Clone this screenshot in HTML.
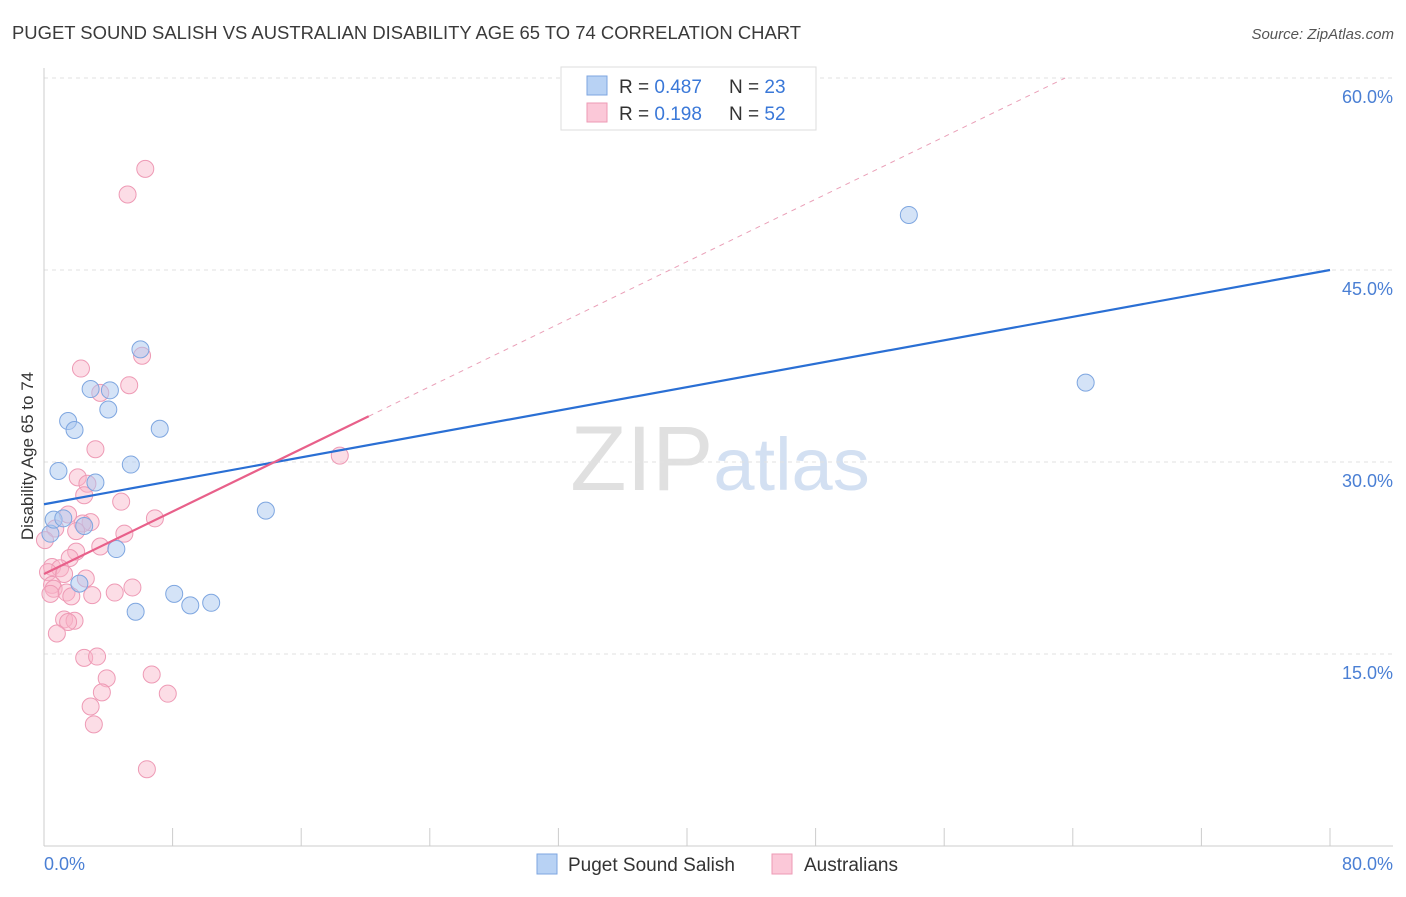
<!DOCTYPE html>
<html><head><meta charset="utf-8"><style>
body{margin:0;background:#fff;font-family:"Liberation Sans",sans-serif;}
svg text{font-family:"Liberation Sans",sans-serif;}
</style></head><body>
<svg id="chart" width="1406" height="892" viewBox="0 0 1406 892" xmlns="http://www.w3.org/2000/svg">
<text x="12" y="39" font-size="18" fill="#3a3a3a" textLength="789" lengthAdjust="spacingAndGlyphs">PUGET SOUND SALISH VS AUSTRALIAN DISABILITY AGE 65 TO 74 CORRELATION CHART</text>
<text x="1394" y="39" font-size="15" fill="#555" text-anchor="end" font-style="italic">Source: ZipAtlas.com</text>
<text x="720" y="490" font-size="92" text-anchor="middle" fill="#e0e0e0" font-family="Liberation Serif">ZIP<tspan fill="#d3e0f2" font-family="Liberation Sans" font-size="74">atlas</tspan></text>
<g id="grid"></g><g id="axes"></g><g id="marks"></g>
<text transform="translate(33,456) rotate(-90)" font-size="17" fill="#333" text-anchor="middle">Disability Age 65 to 74</text>
<text x="44" y="870" font-size="18" fill="#4a7fd4">0.0%</text>
<text x="1393" y="870" font-size="18" fill="#4a7fd4" text-anchor="end">80.0%</text>
<g>
<rect x="561" y="67" width="255" height="63" fill="#fff" stroke="#ddd"/>
<rect x="587" y="76" width="20" height="19" fill="#b8d2f4" stroke="#7ea6e0"/>
<rect x="587" y="103" width="20" height="19" fill="#fbc8d8" stroke="#ee9ab5"/>
<text x="619" y="93" font-size="19" fill="#333">R = <tspan fill="#3a78d8">0.487</tspan><tspan x="729">N = </tspan><tspan fill="#3a78d8">23</tspan></text>
<text x="619" y="120" font-size="19" fill="#333">R = <tspan fill="#3a78d8"> 0.198</tspan><tspan x="729">N = </tspan><tspan fill="#3a78d8">52</tspan></text>
</g>
<g>
<rect x="537" y="854" width="20" height="20" fill="#b8d2f4" stroke="#7ea6e0"/>
<text x="568" y="871" font-size="19" fill="#333">Puget Sound Salish</text>
<rect x="772" y="854" width="20" height="20" fill="#fbc8d8" stroke="#ee9ab5"/>
<text x="804" y="871" font-size="19" fill="#333">Australians</text>
</g>
</svg>
<script>
const yTicks=[15,30,45,60];
const yTickLabels=["15.0%","30.0%","45.0%","60.0%"];
const xTicks=[0,8,16,24,32,40,48,56,64,72,80];
const blueX=[0.4,0.6,0.9,1.2,1.5,1.9,2.2,2.5,2.9,3.2,4.0,4.1,4.5,5.4,5.7,6.0,7.2,8.1,9.1,10.4,13.8,53.8,64.8];
const blueY=[24.4,25.5,29.3,25.6,33.2,32.5,20.5,25.0,35.7,28.4,34.1,35.6,23.2,29.8,18.3,38.8,32.6,19.7,18.8,19.0,26.2,49.3,36.2];
const pinkX=[6.3,5.2,6.1,2.3,5.3,3.5,3.2,18.4,2.1,2.7,2.5,4.8,1.5,6.9,2.9,2.4,0.7,2.0,5.0,0.06,3.5,2.0,1.6,0.5,1.0,0.25,1.25,2.6,0.5,0.6,4.4,5.5,1.4,3.0,0.4,1.7,1.25,1.9,1.5,0.8,2.5,3.3,6.7,3.9,3.6,7.7,2.9,3.1,6.4];
const pinkY=[52.9,50.9,38.3,37.3,36.0,35.4,31.0,30.5,28.8,28.3,27.4,26.9,25.9,25.6,25.3,25.2,24.8,24.6,24.4,23.9,23.4,23.0,22.5,21.8,21.7,21.4,21.25,20.9,20.4,20.1,19.8,20.2,19.8,19.6,19.7,19.5,17.7,17.6,17.5,16.6,14.7,14.8,13.4,13.1,12.0,11.9,10.9,9.5,6.0];
const blueFit=[26.7,45.0];
const pinkFit=[21.25,0.61];
const X=v=>44+v*(1286/80), Y=v=>846-v*(192/15);
const NS="http://www.w3.org/2000/svg";
function mk(parent,tag,attrs){const e=document.createElementNS(NS,tag);for(const k in attrs)e.setAttribute(k,attrs[k]);document.getElementById(parent).appendChild(e);return e;}
yTicks.forEach((t,i)=>{
 const l=mk('grid','line',{x1:44,x2:1393,y1:Y(t),y2:Y(t),stroke:'#e2e2e2','stroke-dasharray':'4,4'});
 
 
 const tx=mk('grid','text',{x:1393,y:Y(t)+25,'font-size':18,fill:'#4a7fd4','text-anchor':'end'});
 tx.textContent=yTickLabels[i];
 
 
});
let a=mk('axes','line',{x1:44,x2:44,y1:68,y2:846,stroke:'#ccc'});


a=mk('axes','line',{x1:44,x2:1393,y1:846,y2:846,stroke:'#ccc'});


xTicks.forEach(t=>{const l=mk('axes','line',{x1:X(t),x2:X(t),y1:828,y2:846,stroke:'#ccc'});
 
 });
pinkX.forEach((x,i)=>{const c=mk('marks','circle',{cx:X(x),cy:Y(pinkY[i]),r:8.5,fill:'rgba(248,180,200,0.45)',stroke:'#ee9ab5','stroke-width':1});
 
 });
blueX.forEach((x,i)=>{const c=mk('marks','circle',{cx:X(x),cy:Y(blueY[i]),r:8.5,fill:'rgba(170,200,240,0.5)',stroke:'#7ea6e0','stroke-width':1});
 
 });
let ln=mk('marks','line',{x1:X(0),y1:Y(blueFit[0]),x2:X(80),y2:Y(blueFit[1]),stroke:'#2a6fd4','stroke-width':2.2});


const pxEnd=(60-pinkFit[0])/pinkFit[1];
ln=mk('marks','line',{x1:X(20.2),y1:Y(pinkFit[0]+pinkFit[1]*20.2),x2:X(pxEnd),y2:Y(60),stroke:'#eaa0b8','stroke-width':1,'stroke-dasharray':'5,5'});


ln=mk('marks','line',{x1:X(0),y1:Y(pinkFit[0]),x2:X(20.2),y2:Y(pinkFit[0]+pinkFit[1]*20.2),stroke:'#e8608a','stroke-width':2.2});


</script>
</body></html>
